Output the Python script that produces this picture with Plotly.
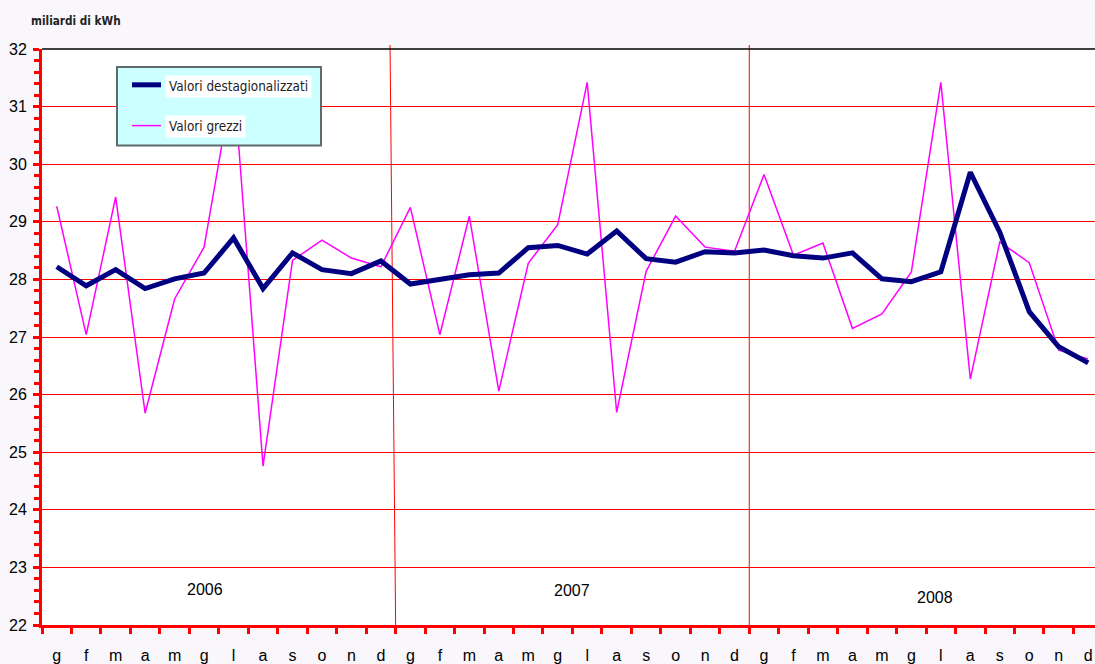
import subprocess
import plotly.graph_objects as go

# ---------------- data ----------------
months = ["g", "f", "m", "a", "m", "g", "l", "a", "s", "o", "n", "d"]
years = ["2006", "2007", "2008"]

destagionalizzati = [
    28.22, 27.89, 28.17, 27.84, 28.01, 28.11, 28.72, 27.84, 28.46, 28.17, 28.10, 28.32,
    27.92, 27.99, 28.08, 28.11, 28.55, 28.59, 28.44, 28.84, 28.36, 28.30, 28.48, 28.46,
    28.51, 28.41, 28.37, 28.46, 28.01, 27.96, 28.13, 29.86, 28.82, 27.44, 26.83, 26.55,
]
grezzi = [
    29.27, 27.04, 29.43, 25.68, 27.66, 28.56, 31.50, 24.76, 28.33, 28.68, 28.37, 28.22,
    29.25, 27.04, 29.10, 26.06, 28.28, 28.95, 31.42, 25.69, 28.14, 29.10, 28.56, 28.49,
    29.82, 28.42, 28.63, 27.15, 27.40, 28.13, 31.42, 26.27, 28.65, 28.29, 26.77, 26.62,
]

series_names = ["Valori destagionalizzati", "Valori grezzi"]
unit_label = "miliardi di kWh"

# ---------------- fonts ----------------
try:
    families = subprocess.run(["fc-list", ":", "family"], capture_output=True,
                              text=True, timeout=10).stdout
except Exception:
    families = ""
if "Liberation Sans Narrow" in families:
    NARROW, LEG_SIZE, TITLE_SIZE = "Liberation Sans Narrow", 16.5, 14
elif "DejaVu Sans Condensed" in families:
    NARROW, LEG_SIZE, TITLE_SIZE = "DejaVu Sans Condensed", 13.4, 11.7
else:
    NARROW, LEG_SIZE, TITLE_SIZE = "Liberation Sans", 13.6, 12

# ---------------- layout geometry ----------------
W, H = 1095, 664
L, R, T, B = 42, 0, 49, 36
PW, PH = W - L - R, H - T - B

def px(x):
    return (x - L) / PW

def py(y):
    return (H - B - y) / PH

tick_labels = months * len(years)
xs = list(range(len(tick_labels)))

NAVY = "#000080"
MAGENTA = "#ff00ff"
RED = "#ff0000"
SANS = "Liberation Sans, Arial, sans-serif"

fig = go.Figure()
fig.add_trace(go.Scatter(x=xs, y=grezzi, mode="lines", name=series_names[1],
                         line=dict(color=MAGENTA, width=1.5), showlegend=False))
fig.add_trace(go.Scatter(x=xs, y=destagionalizzati, mode="lines", name=series_names[0],
                         line=dict(color=NAVY, width=5), showlegend=False))

shapes = []
# top border
shapes.append(dict(type="line", xref="paper", yref="paper", x0=0, x1=1, y0=1, y1=1,
                   line=dict(color="black", width=1.5), layer="above"))
# year separators
shapes.append(dict(type="line", xref="x", yref="paper", x0=11.5, x1=11.31, y0=0, y1=1 + 4 / PH,
                   line=dict(color=RED, width=1), layer="below"))
shapes.append(dict(type="line", xref="x", yref="paper", x0=23.5, x1=23.5, y0=0, y1=1 + 4 / PH,
                   line=dict(color=RED, width=1), layer="below"))
# legend box
shapes.append(dict(type="rect", xref="paper", yref="paper",
                   x0=px(117), x1=px(321), y0=py(146), y1=py(67),
                   fillcolor="#ccffff", line=dict(color="#5f6b6b", width=2), layer="above"))
shapes.append(dict(type="line", xref="paper", yref="paper",
                   x0=px(132), x1=px(161), y0=py(85), y1=py(85),
                   line=dict(color=NAVY, width=5), layer="above"))
shapes.append(dict(type="line", xref="paper", yref="paper",
                   x0=px(132), x1=px(161), y0=py(126), y1=py(126),
                   line=dict(color=MAGENTA, width=1.5), layer="above"))

annotations = []
annotations.append(dict(text=f"<b>{unit_label}</b>", xref="paper", yref="paper", x=px(29), y=py(21),
                        xanchor="left", yanchor="middle", showarrow=False,
                        font=dict(family=NARROW, size=TITLE_SIZE, color="#222222")))
annotations.append(dict(text=series_names[0], xref="paper", yref="paper", x=px(165), y=py(87),
                        xanchor="left", yanchor="middle", showarrow=False, bgcolor="white",
                        borderpad=3, font=dict(family=NARROW, size=LEG_SIZE, color="#222222")))
annotations.append(dict(text=series_names[1], xref="paper", yref="paper", x=px(165), y=py(127),
                        xanchor="left", yanchor="middle", showarrow=False, bgcolor="white",
                        borderpad=3, font=dict(family=NARROW, size=LEG_SIZE, color="#222222")))
year_pos = [(5.03, 22.62), (17.48, 22.60), (29.8, 22.48)]
for yr, (xx, yy) in zip(years, year_pos):
    annotations.append(dict(text=yr, xref="x", yref="y", x=xx, y=yy, showarrow=False,
                            xanchor="center", yanchor="middle",
                            font=dict(family=SANS, size=16, color="black")))

fig.update_layout(
    width=W, height=H,
    margin=dict(l=L, r=R, t=T, b=B, pad=0),
    paper_bgcolor="#f9f7fb",
    plot_bgcolor="white",
    showlegend=False,
    shapes=shapes,
    annotations=annotations,
    xaxis=dict(
        range=[-0.5, -0.5 + PW / 29.47],
        tickmode="array", tickvals=xs, ticktext=tick_labels,
        ticks="", showgrid=False, zeroline=False,
        showline=True, linecolor=RED, linewidth=3,
        tickfont=dict(family=SANS, size=16, color="black"),
        ticklabelstandoff=14,
        minor=dict(tick0=-0.5, dtick=1, ticks="outside", ticklen=6, tickwidth=3,
                   tickcolor=RED, showgrid=False),
        fixedrange=True,
    ),
    yaxis=dict(
        range=[22, 32], dtick=1, tick0=22,
        ticks="outside", ticklen=6, tickwidth=3, tickcolor=RED,
        showgrid=True, gridcolor=RED, gridwidth=1,
        zeroline=False, showline=True, linecolor=RED, linewidth=3,
        tickfont=dict(family=SANS, size=16, color="black"),
        ticklabelstandoff=3,
        minor=dict(dtick=0.2, ticks="outside", ticklen=5, tickwidth=3,
                   tickcolor=RED, showgrid=False),
        fixedrange=True,
    ),
)

fig.write_html("out.html", config={"displayModeBar": False},
               post_script="document.body.style.margin='0';document.body.style.overflow='hidden';")
